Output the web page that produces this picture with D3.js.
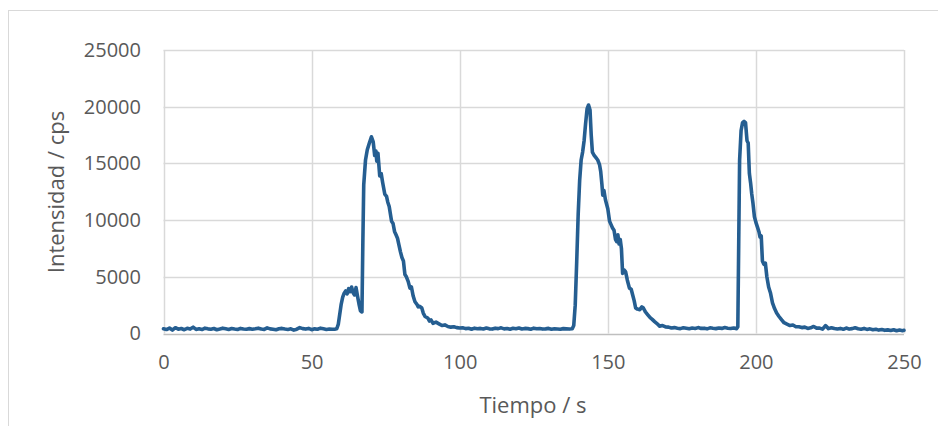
<!DOCTYPE html>
<html>
<head>
<meta charset="utf-8">
<script src="https://cdn.jsdelivr.net/npm/d3@7/dist/d3.min.js"></script>
<style>
  html, body { margin: 0; padding: 0; background: #fff; }
  svg { display: block; }
  text { font-family: "Open Sans", "Liberation Sans", sans-serif; fill: #595959; }
</style>
</head>
<body>
<svg id="chart" width="938" height="426"></svg>
<script>
// Time axis (s) of the recorded signal
const time = [
  0,1,2,3,4,5,6,7,8,9,10,11,12,13,14,15,16,17,18,19,20,21,22,23,24,25,26,27,28,29,
  30,31,32,33,34,35,36,37,38,39,40,41,42,43,44,45,46,47,48,49,50,51,52,53,54,55,56,57,58,
  58.5,59,59.5,60,60.5,61,61.5,62,62.5,63,63.5,64,64.5,65,65.5,66,66.5,67,
  67.3,67.6,68.2,68.8,69.5,70.2,70.8,71.3,71.7,72,72.4,73,73.5,74,74.7,75.3,75.7,76.2,
  77,77.5,78,78.5,79,79.5,80,80.5,81,81.5,82,82.6,83.2,83.7,84.3,84.9,85.5,86,86.5,
  87.2,87.7,88.3,89.2,89.8,90.3,91,92,93,94,95,96,97,98,99,100,
  101,102,103,104,105,106,107,108,109,110,111,112,113,114,115,116,117,118,119,120,
  121,122,123,124,125,126,127,128,129,130,131,132,133,134,135,136,137,138,
  138.5,139,139.5,140,140.5,141,141.5,142,142.5,143,143.5,144,144.4,144.8,145.4,146,
  146.6,147.2,147.6,148,148.3,148.7,149.2,149.6,150,150.6,151.1,151.6,152.1,152.6,153,
  153.4,153.8,154.2,154.6,155,155.5,156,156.6,157.3,157.9,158.4,158.9,159.4,160,160.8,
  161.5,162,162.7,163.5,164.3,165,165.8,166.5,167.5,168.5,169.5,170.5,171.5,172.5,173.5,
  174.5,175.5,176.5,177.5,178.5,179.5,180.5,181.5,182.5,183.5,184.5,185.5,186.5,187.5,
  188.5,189.5,190.5,191.5,192.5,193.5,
  193.9,194.2,194.5,195,195.5,196,196.5,197,197.4,197.8,198.2,198.6,199,199.5,200,200.5,
  201,201.4,201.8,202.2,202.7,203.2,203.7,204.3,204.9,205.6,206.3,207,207.8,208.7,209.5,
  210.5,211.5,212.5,213.5,214.5,215.5,216.5,217.5,218.5,219.5,220.5,221.5,222.5,223.5,
  224.5,225.5,226.5,227.5,228.5,229.5,230.5,231.5,232.5,233.5,234.5,235.5,236.5,237.5,
  238.5,239.5,240.5,241.5,242.5,243.5,244.5,245.5,246.5,247.5,248.5,249.5,250
];

// Measured intensity (cps)
const intensity = [
  420,350,480,300,510,380,440,330,460,390,560,360,420,350,470,410,380,440,330,390,
  470,420,360,440,390,350,450,400,370,430,380,420,470,390,360,500,410,380,330,420,
  450,390,360,410,300,380,520,430,390,450,340,410,380,470,420,360,400,380,390,
  420,800,1700,2600,3200,3550,3750,3500,3950,3700,4100,3600,3400,4050,3300,2600,2000,1900,
  8000,13100,15300,16200,16800,17350,16900,15700,16100,15200,15900,13900,14100,13300,12300,12100,11600,11200,
  9900,9700,9000,8700,8400,7800,7200,6700,6400,5200,5000,4600,4000,4100,3300,2800,2600,2350,2400,
  2250,1800,1500,1370,1100,1200,900,1000,850,700,760,620,560,600,520,480,
  500,430,460,380,470,420,450,400,480,410,390,470,430,500,410,440,380,460,420,490,
  400,450,430,380,470,420,440,390,410,450,380,420,400,370,430,410,390,420,
  700,2500,6300,10500,13500,15300,16000,17000,18500,19800,20150,19700,17500,16000,15700,15500,
  15300,14900,14300,13200,12200,12600,11800,11400,11000,9900,9600,9300,9100,8300,8100,
  8700,7900,8300,7500,5300,5600,5450,4700,4000,3900,3400,2900,2250,2150,2100,
  2350,2250,1900,1650,1400,1250,1050,900,650,700,580,560,480,520,470,
  430,500,460,420,480,440,520,450,470,410,500,460,430,490,
  450,520,470,440,480,430,
  600,8000,15300,17900,18600,18700,18600,17000,16800,14100,13300,12300,11500,10300,9800,9400,
  9000,8500,8600,6400,6100,6200,5000,4100,3600,2700,2200,1800,1500,1200,950,
  820,700,750,600,590,520,560,450,500,620,470,480,380,700,
  430,510,440,400,450,370,480,390,430,510,420,380,450,360,
  410,330,380,300,350,280,320,260,330,240,300,250,280
];

// Axis ticks
const xTicks = [0, 50, 100, 150, 200, 250];
const yTicks = [0, 5000, 10000, 15000, 20000, 25000];

const xTitle = "Tiempo / s";
const yTitle = "Intensidad / cps";

const svg = d3.select("#chart");

// Chart frame
svg.append("rect")
  .attr("x", 8.5).attr("y", 10.5)
  .attr("width", 960).attr("height", 460)
  .attr("fill", "none").attr("stroke", "#d9d9d9").attr("stroke-width", 1);

const x = d3.scaleLinear().domain([0, 250]).range([163.5, 904]);
const y = d3.scaleLinear().domain([0, 25000]).range([333.5, 50]);

// Gridlines
const grid = svg.append("g");
grid.selectAll("line.h").data(yTicks.slice(1)).join("line")
  .attr("class", "h")
  .attr("x1", x(0)).attr("x2", x(250))
  .attr("y1", d => Math.round(y(d)) + 0.5).attr("y2", d => Math.round(y(d)) + 0.5)
  .attr("stroke", "#d9d9d9").attr("stroke-width", 1.5);
grid.selectAll("line.v").data(xTicks).join("line")
  .attr("class", "v")
  .attr("x1", d => Math.round(x(d)) + 0.5).attr("x2", d => Math.round(x(d)) + 0.5)
  .attr("y1", y(25000)).attr("y2", y(0))
  .attr("stroke", "#d9d9d9").attr("stroke-width", 1.5);

// Horizontal axis line
svg.append("line")
  .attr("x1", x(0)).attr("x2", x(250))
  .attr("y1", Math.round(y(0)) + 0.5).attr("y2", Math.round(y(0)) + 0.5)
  .attr("stroke", "#bfbfbf").attr("stroke-width", 1.5);

// Y tick labels
const yAxis = d3.axisLeft(y).tickValues(yTicks).tickSize(0).tickPadding(0).tickFormat(d3.format("d"));
const gy = svg.append("g").attr("transform", "translate(141,0)").call(yAxis);
gy.select(".domain").remove();
gy.selectAll("text")
  .attr("font-size", 20).attr("fill", "#595959")
  .attr("font-family", "'Open Sans', sans-serif");

// X tick labels
const xAxis = d3.axisBottom(x).tickValues(xTicks).tickSize(0).tickPadding(0).tickFormat(d3.format("d"));
const gx = svg.append("g").attr("transform", "translate(0,355)").call(xAxis);
gx.select(".domain").remove();
gx.selectAll("text")
  .attr("font-size", 20).attr("fill", "#595959")
  .attr("font-family", "'Open Sans', sans-serif");

// Axis titles
svg.append("text")
  .attr("x", 533).attr("y", 413)
  .attr("text-anchor", "middle")
  .attr("font-size", 22)
  .text(xTitle);

svg.append("text")
  .attr("transform", "translate(64,192) rotate(-90)")
  .attr("text-anchor", "middle")
  .attr("font-size", 22)
  .text(yTitle);

// Signal trace
const pts = time.map((t, i) => [t, intensity[i]]);
const line = d3.line().x(d => x(d[0])).y(d => y(d[1])).curve(d3.curveLinear);
svg.append("path")
  .datum(pts)
  .attr("d", line)
  .attr("fill", "none")
  .attr("stroke", "#255e91")
  .attr("stroke-width", 3.6)
  .attr("stroke-linejoin", "round")
  .attr("stroke-linecap", "round");
</script>
</body>
</html>
